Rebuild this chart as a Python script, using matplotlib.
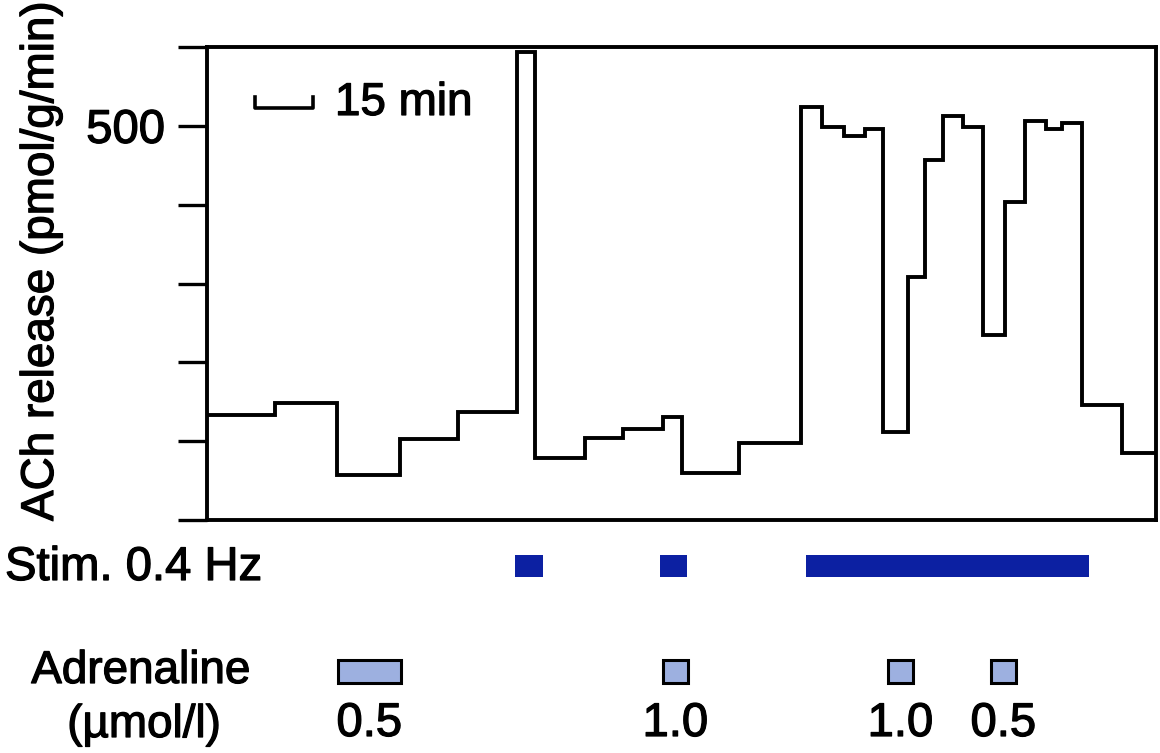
import matplotlib.pyplot as plt
import matplotlib.patheffects as pe
from matplotlib.patches import Rectangle

plt.rcParams['font.family'] = ['Liberation Sans', 'DejaVu Sans']
# scanned figure: text a touch heavier than plain regular
plt.rcParams['path.effects'] = []
thick = [pe.withStroke(linewidth=0.9, foreground='black')]

# sample edges (min) and ACh release per sample (pmol/g/min)
edges = [0, 17.4, 33.3, 49.5, 64.4, 79.5, 84.1, 96.9, 106.7, 116.9, 121.8,
         136.4, 152.3, 157.7, 163.3, 168.7, 173.3, 179.7, 184.1, 188.7,
         193.8, 199.0, 204.6, 209.7, 215.1, 219.2, 224.4, 234.6, 243.3]
ach = [133, 148, 57, 103, 137, 594, 79, 104, 115, 131, 60, 98, 524, 499,
       487, 496, 112, 308, 457, 513, 499, 235, 404, 506, 496, 503, 146, 85]

# stimulation periods (start, end) in min
stim = [(79.0, 86.2), (116.2, 123.1), (153.6, 226.2)]

# adrenaline applications (start, end) in min, and concentration labels
adr = [(33.6, 49.7), (116.9, 123.3), (174.6, 181.0), (201.0, 207.4)]
adr_labels = ['0.5', '1.0', '1.0', '0.5']

W, H = 1160, 753
fig = plt.figure(figsize=(W / 100, H / 100), dpi=100)

left, right = 207 / W, 1156 / W
ax = fig.add_axes([left, (H - 520) / H, right - left, (520 - 47) / H])
ax.stairs(ach, edges, baseline=None, color='black', lw=2.8)
ax.set_xlim(edges[0], edges[-1])
ax.set_ylim(0, 600)
ax.set_xticks([])
ax.set_yticks(range(0, 601, 100))
ax.set_yticklabels(['', '', '', '', '', '500', ''])
ax.tick_params(axis='y', direction='out', length=21, width=2.4, pad=9,
               labelsize=34)
for t in ax.get_yticklabels():
    t.set_path_effects(thick)
for s in ax.spines.values():
    s.set_linewidth(2.8)

# 15 min scale bar
x0 = 12.3
ax.plot([x0, x0, x0 + 15, x0 + 15], [537, 522, 522, 537], color='black', lw=2.6)
ax.text(x0 + 20.5, 529, '15 min', fontsize=33, va='center', ha='left',
        path_effects=thick)

fig.text(41 / W, (H - 521) / H, 'ACh release (pmol/g/min)', rotation=90,
         fontsize=33, ha='center', va='bottom', path_effects=thick)

# lower panel with stim and adrenaline markers, y in image rows
ax2 = fig.add_axes([left, 0, right - left, (H - 530) / H])
ax2.set_xlim(edges[0], edges[-1])
ax2.set_ylim(H, 530)
ax2.axis('off')

for a, b in stim:
    ax2.add_patch(Rectangle((a, 555), b - a, 22, facecolor='#0c20a2',
                            edgecolor='none'))
for (a, b), lab in zip(adr, adr_labels):
    ax2.add_patch(Rectangle((a, 660), b - a, 23, facecolor='#9db0e0',
                            edgecolor='black', lw=2.2))
    ax2.text((a + b) / 2, 724, lab, fontsize=34, ha='center', va='center',
             path_effects=thick)

fig.text(5 / W, (H - 568) / H, 'Stim. 0.4 Hz', fontsize=34, ha='left',
         va='center', path_effects=thick)
fig.text(141 / W, (H - 671) / H, 'Adrenaline', fontsize=33, ha='center',
         va='center', path_effects=thick)
fig.text(144 / W, (H - 725) / H, '(\u00b5mol/l)', fontsize=33, ha='center',
         va='center', path_effects=thick)

fig.savefig('out.png', dpi=100)
